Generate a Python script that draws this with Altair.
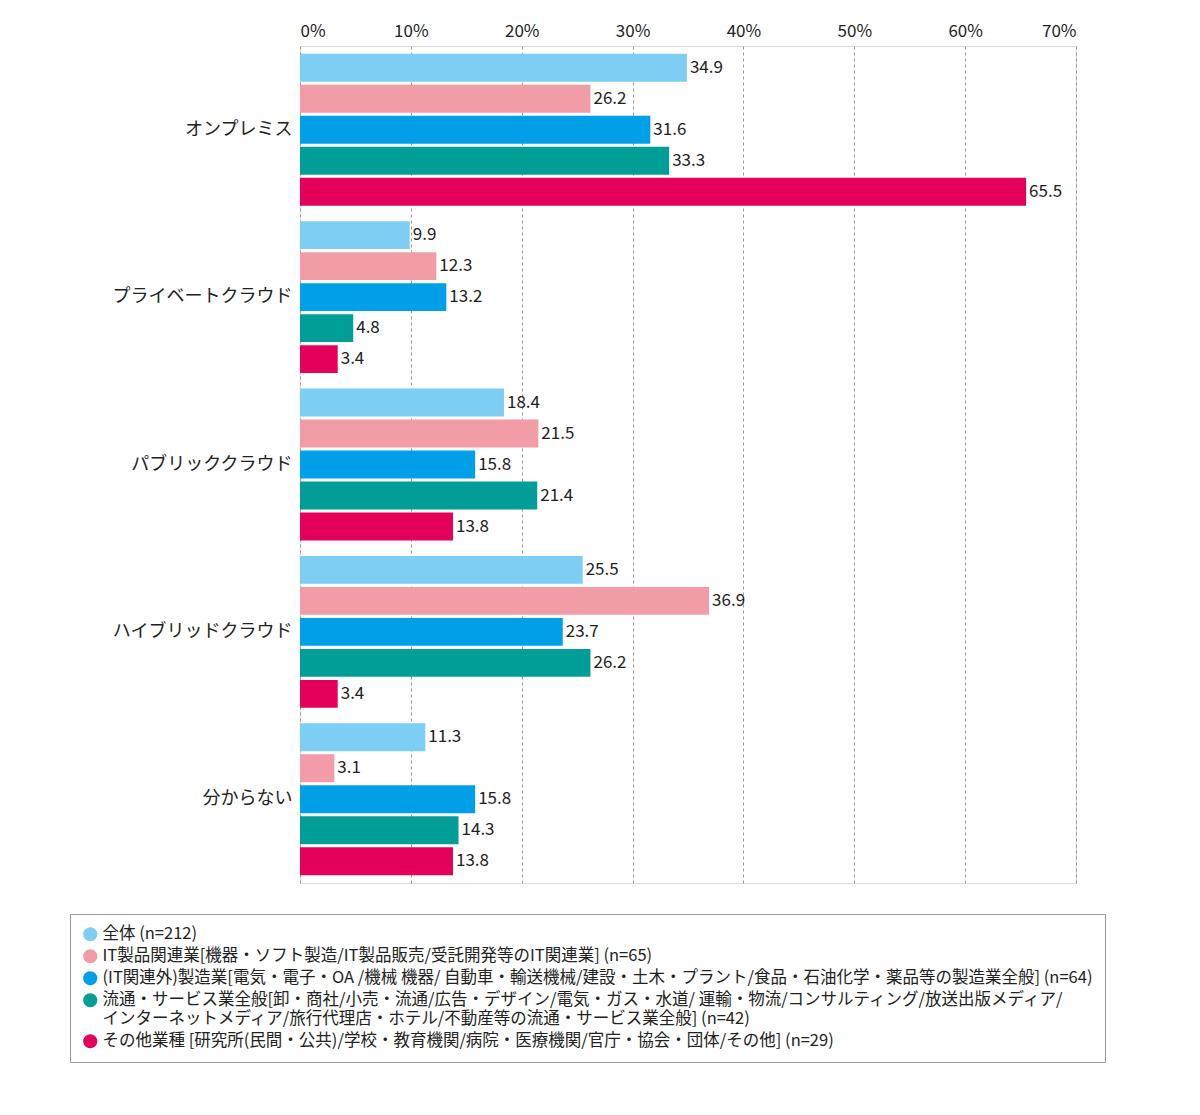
import altair as alt
import pandas as pd

categories = ["オンプレミス", "プライベートクラウド", "パブリッククラウド", "ハイブリッドクラウド", "分からない"]
series = [
    "全体 (n=212)",
    "IT製品関連業[機器・ソフト製造/IT製品販売/受託開発等のIT関連業] (n=65)",
    "(IT関連外)製造業[電気・電子・OA /機械 機器/ 自動車・輸送機械/建設・土木・プラント/食品・石油化学・薬品等の製造業全般] (n=64)",
    "流通・サービス業全般[卸・商社/小売・流通/広告・デザイン/電気・ガス・水道/ 運輸・物流/コンサルティング/放送出版メディア/|インターネットメディア/旅行代理店・ホテル/不動産等の流通・サービス業全般] (n=42)",
    "その他業種 [研究所(民間・公共)/学校・教育機関/病院・医療機関/官庁・協会・団体/その他] (n=29)",
]
colors = ["#7ecef4", "#f19ca7", "#00a0e9", "#009e96", "#e4005a"]
values = [
    [34.9, 26.2, 31.6, 33.3, 65.5],
    [9.9, 12.3, 13.2, 4.8, 3.4],
    [18.4, 21.5, 15.8, 21.4, 13.8],
    [25.5, 36.9, 23.7, 26.2, 3.4],
    [11.3, 3.1, 15.8, 14.3, 13.8],
]

rows = []
for ci, c in enumerate(categories):
    for si, s in enumerate(series):
        rows.append({"cat": c, "series": s, "v": values[ci][si], "lbl": f"{values[ci][si]:.1f}"})
df = pd.DataFrame(rows)

FONT = "Noto Sans CJK JP"

y = alt.Y("cat:N", sort=categories, title=None,
          scale=alt.Scale(paddingInner=0.0, paddingOuter=0.0),
          axis=alt.Axis(ticks=False, domain=False, labelFontSize=18, labelPadding=8,
                        labelColor="#222", labelFont=FONT))
yo = alt.YOffset("series:N", sort=series, scale=alt.Scale(paddingInner=0.1, paddingOuter=0.25))

base = alt.Chart(df).encode(y=y, yOffset=yo)

bars = base.mark_bar().encode(
    x=alt.X("v:Q", scale=alt.Scale(domain=[0, 70]), title=None,
            axis=alt.Axis(orient="top", values=list(range(0, 71, 10)),
                          labelExpr="datum.value + '%'", labelFontSize=17, labelColor="#222",
                          labelFont=FONT, ticks=False, domain=False, grid=True,
                          gridDash=[3, 3], gridColor="#999", labelPadding=6)),
    color=alt.Color("series:N", sort=series, scale=alt.Scale(domain=series, range=colors),
                    legend=alt.Legend(orient="none", legendX=-230, legendY=868, title=None,
                                      direction="vertical", symbolType="circle", symbolSize=200,
                                      labelFontSize=16.5, labelFont=FONT, labelColor="#222",
                                      labelLimit=1200, labelExpr="split(datum.label, '|')",
                                      rowPadding=5, strokeColor="#999", padding=12,
                                      labelBaseline="middle")),
)
texts = base.mark_text(align="left", dx=3, fontSize=17, font=FONT, color="#222").encode(
    x="v:Q", text="lbl:N")

chart = (bars + texts).properties(width=776, height=837).configure_view(
    stroke="#444", strokeWidth=1).configure(padding={"left": 61, "top": 14, "right": 5, "bottom": 200})

chart.save("out.html", embed_options={"renderer": "svg", "actions": False})
